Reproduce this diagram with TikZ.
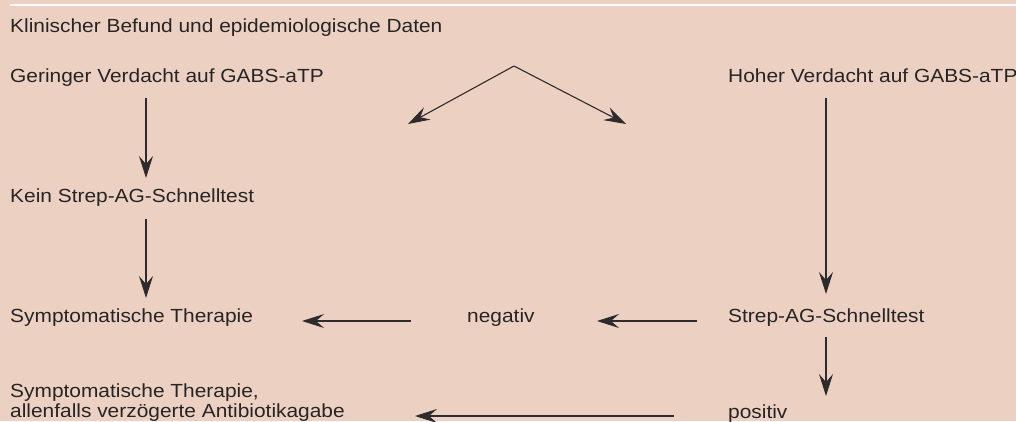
\documentclass[tikz,border=0pt]{standalone}
\usepackage{fontspec}
\setmainfont{Liberation Sans}[FakeStretch=1.10]
\usetikzlibrary{arrows.meta}
\definecolor{bg}{RGB}{236,209,195}
\definecolor{ink}{RGB}{38,36,36}
\definecolor{linec}{RGB}{45,43,43}
\tikzset{
  lbl/.style={anchor=base west, inner sep=0pt, text=ink, font=\fontsize{19}{20}\selectfont, align=left},
  arr/.style={draw=linec, line width=1.1pt, -{Stealth[length=22pt, width=14pt, inset=8pt]}},
  plain/.style={draw=linec, line width=1.1pt}
}
\begin{document}
\begin{tikzpicture}[x=1pt,y=-1pt]
\fill[bg] (0,0) rectangle (1016,421);
\useasboundingbox (0,0) rectangle (1016,421);
\draw[white, line width=2pt] (10,5) -- (1016,5);

\node[lbl] (kb) at (10,32) {Klinischer Befund und epidemiologische Daten};
\node[lbl] (gv) at (10,82) {Geringer Verdacht auf GABS-aTP};
\node[lbl] (hv) at (728,82) {Hoher Verdacht auf GABS-aTP};
\node[lbl] (ks) at (10,202) {Kein Strep-AG-Schnelltest};
\node[lbl] (st) at (10,322) {Symptomatische Therapie};
\node[lbl] (ng) at (467,322) {negativ};
\node[lbl] (sg) at (728,322) {Strep-AG-Schnelltest};
\node[lbl] (sa) at (10,417) {Symptomatische Therapie,\\allenfalls verzögerte Antibiotikagabe};
\node[lbl] (ps) at (728,418) {positiv};

% connector end points
\coordinate (apex) at (514,66);
\coordinate (vl) at (408,124);
\coordinate (vr) at (626,124);
\coordinate (a1s) at (146,98);
\coordinate (a1e) at (146,178);
\coordinate (a2s) at (146,219);
\coordinate (a2e) at (146,298);
\coordinate (a3s) at (826,98);
\coordinate (a3e) at (826,294);
\coordinate (a4s) at (826,337);
\coordinate (a4e) at (826,396);
\coordinate (h1s) at (411,321);
\coordinate (h1e) at (302,321);
\coordinate (h2s) at (697,321);
\coordinate (h2e) at (597,321);
\coordinate (h3s) at (674,416);
\coordinate (h3e) at (415,416);

\draw[arr] (apex) -- (vl);
\draw[arr] (apex) -- (vr);
\draw[arr] (a1s) -- (a1e);
\draw[arr] (a2s) -- (a2e);
\draw[arr] (a3s) -- (a3e);
\draw[arr] (a4s) -- (a4e);
\draw[arr] (h1s) -- (h1e);
\draw[arr] (h2s) -- (h2e);
\draw[arr] (h3s) -- (h3e);
\end{tikzpicture}
\end{document}
